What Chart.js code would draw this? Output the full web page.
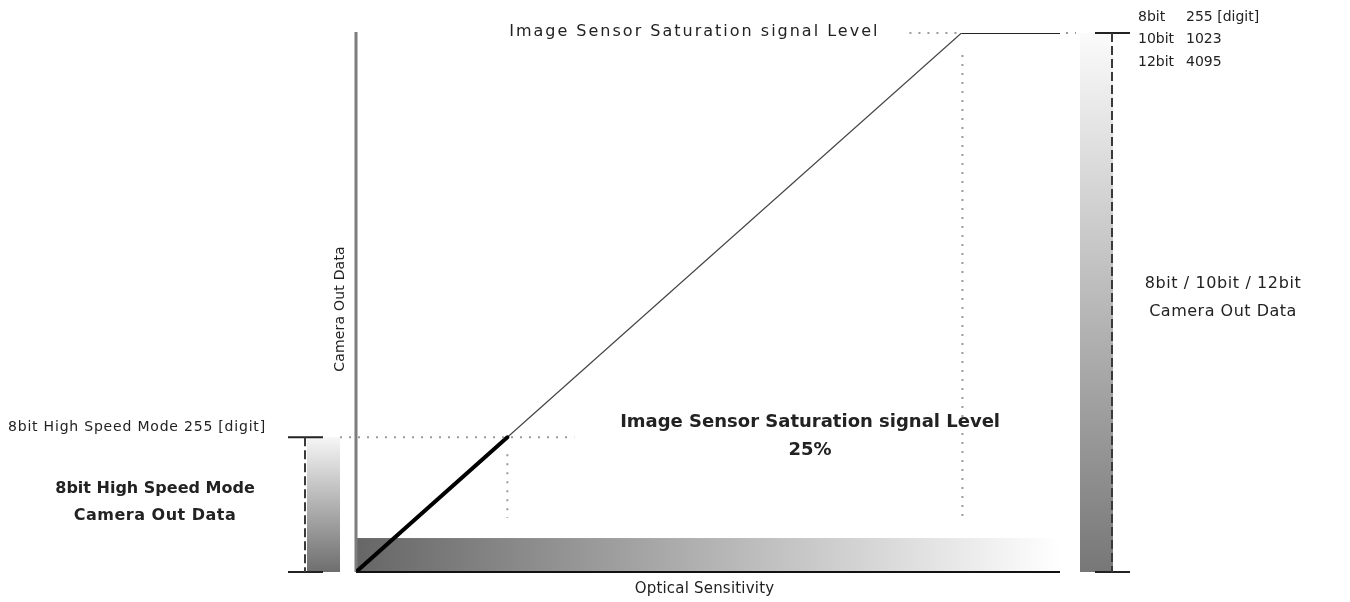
<!DOCTYPE html>
<html>
<head>
<meta charset="utf-8">
<title>Camera Out Data vs Optical Sensitivity</title>
<script src="https://cdn.jsdelivr.net/npm/chart.js@4.4.1/dist/chart.umd.min.js"></script>
<style>
    body { margin: 0; background: #fff; }
    canvas { display: block; }
</style>
</head>
<body>
<canvas id="sensor" width="1350" height="602"></canvas>
<script>
// optical sensitivity (x, % of full range) and camera output (y, % of saturation)
const sensitivity = [0, 21.5, 86, 100];
const outputLevel = [0, 25, 100, 100];
const highSpeedLevel = 25;      // 8bit high speed mode clips here
const saturationLevel = 100;
const bitDepths = ['8bit', '10bit', '12bit'];
const maxCodes = ['255 [digit]', '1023', '4095'];
const highSpeedCode = '8bit High Speed Mode 255 [digit]';

const points = sensitivity.map((x, i) => ({ x: x, y: outputLevel[i] }));
const highSpeedPts = points.filter(p => p.y <= highSpeedLevel);
const normalPts = points.filter(p => p.y >= highSpeedLevel);
const satX = sensitivity[outputLevel.indexOf(saturationLevel)];
const kneeX = highSpeedPts[highSpeedPts.length - 1].x;

function dotted(ctx, x1, y1, x2, y2) {
    ctx.save();
    ctx.strokeStyle = '#9a9a9a';
    ctx.lineWidth = 2;
    ctx.setLineDash([2, 7]);
    ctx.beginPath();
    ctx.moveTo(x1, y1);
    ctx.lineTo(x2, y2);
    ctx.stroke();
    ctx.restore();
}

function dashed(ctx, x, y1, y2) {
    ctx.save();
    ctx.strokeStyle = '#3a3a3a';
    ctx.lineWidth = 2;
    ctx.setLineDash([9, 4]);
    ctx.beginPath();
    ctx.moveTo(x, y1);
    ctx.lineTo(x, y2);
    ctx.stroke();
    ctx.restore();
}

function hline(ctx, x1, x2, y, w, color) {
    ctx.save();
    ctx.strokeStyle = color;
    ctx.lineWidth = w;
    ctx.beginPath();
    ctx.moveTo(x1, y);
    ctx.lineTo(x2, y);
    ctx.stroke();
    ctx.restore();
}

function text(ctx, str, x, y, font, align, spacing) {
    ctx.save();
    ctx.font = font;
    ctx.fillStyle = '#222';
    ctx.textAlign = align || 'left';
    ctx.textBaseline = 'middle';
    ctx.letterSpacing = (spacing || 0) + 'px';
    ctx.fillText(str, x, y);
    ctx.restore();
}

function vGradBar(ctx, x1, x2, yTop, yBot, top, bottom) {
    const g = ctx.createLinearGradient(0, yTop, 0, yBot);
    g.addColorStop(0, top);
    g.addColorStop(1, bottom);
    ctx.fillStyle = g;
    ctx.fillRect(x1, yTop, x2 - x1, yBot - yTop);
}

const decor = {
    id: 'decor',
    beforeDatasetsDraw(chart) {
        const ctx = chart.ctx;
        const xs = chart.scales.x, ys = chart.scales.y;
        const a = chart.chartArea;
        const x0 = xs.getPixelForValue(0), x1 = xs.getPixelForValue(100);
        const y0 = ys.getPixelForValue(0);

        // horizontal gradient strip along the sensitivity axis
        const gTop = ys.getPixelForValue(6.3);
        const g = ctx.createLinearGradient(x0, 0, x1, 0);
        g.addColorStop(0, '#666666');
        g.addColorStop(1, '#ffffff');
        ctx.fillStyle = g;
        ctx.fillRect(x0, gTop, x1 - x0, y0 - gTop);

        // left bar: 8bit high speed range
        const yHs = ys.getPixelForValue(highSpeedLevel);
        vGradBar(ctx, a.left - 49, a.left - 16, yHs, y0, '#f6f6f6', '#6e6e6e');
        // right bar: full range
        const ySat = ys.getPixelForValue(saturationLevel);
        vGradBar(ctx, a.right + 20, a.right + 53, ySat, y0, '#fbfbfb', '#777777');

        // camera out data axis
        ctx.save();
        ctx.strokeStyle = '#7d7d7d';
        ctx.lineWidth = 3;
        ctx.beginPath();
        ctx.moveTo(x0, ySat - 1);
        ctx.lineTo(x0, y0);
        ctx.stroke();
        ctx.restore();
    },
    afterDraw(chart) {
        const ctx = chart.ctx;
        const xs = chart.scales.x, ys = chart.scales.y;
        const a = chart.chartArea;
        const x0 = xs.getPixelForValue(0);
        const y0 = ys.getPixelForValue(0);
        const yHs = ys.getPixelForValue(highSpeedLevel);
        const ySat = ys.getPixelForValue(saturationLevel);
        const xKnee = xs.getPixelForValue(kneeX);
        const xSat = xs.getPixelForValue(satX);

        // sensitivity axis
        hline(ctx, x0, a.right, y0, 2, '#111');

        // guides
        dotted(ctx, x0 - 16, yHs, xs.getPixelForValue(31), yHs);
        dotted(ctx, xKnee, yHs + 17, xKnee, ys.getPixelForValue(10));
        dotted(ctx, xSat - 52, ySat, xSat - 2, ySat);
        dotted(ctx, a.right + 6, ySat, a.right + 16, ySat);
        dotted(ctx, xSat + 1, ySat + 22, xSat + 1, ys.getPixelForValue(9.5));

        // range markers
        hline(ctx, a.left - 68, a.left - 33, yHs, 2, '#222');
        hline(ctx, a.left - 68, a.left - 33, y0, 2, '#222');
        dashed(ctx, a.left - 51, yHs, y0);
        hline(ctx, a.right + 35, a.right + 70, ySat, 2, '#222');
        hline(ctx, a.right + 35, a.right + 70, y0, 2, '#222');
        dashed(ctx, a.right + 52, ySat, y0);

        // labels
        const reg = '"DejaVu Sans", sans-serif';
        text(ctx, 'Image Sensor Saturation signal Level', xSat - 82, ySat - 1, '16px ' + reg, 'right', 2);
        bitDepths.forEach((b, i) => {
            const y = ySat - 16 + i * 22.5;
            text(ctx, b, a.right + 78, y, '14px ' + reg, 'left', 0);
            text(ctx, maxCodes[i], a.right + 126, y, '14px ' + reg, 'left', 0);
        });
        text(ctx, '8bit / 10bit / 12bit', a.right + 163, ys.getPixelForValue(53.5), '16px ' + reg, 'center', 0.6);
        text(ctx, 'Camera Out Data', a.right + 163, ys.getPixelForValue(48.2), '16px ' + reg, 'center', 0.5);

        text(ctx, highSpeedCode, 8, yHs - 10, '14px ' + reg, 'left', 0.8);
        text(ctx, '8bit High Speed Mode', 155, ys.getPixelForValue(15.4), 'bold 16px ' + reg, 'center', 0);
        text(ctx, 'Camera Out Data', 155, ys.getPixelForValue(10.4), 'bold 16px ' + reg, 'center', 0.5);

        text(ctx, 'Image Sensor Saturation signal Level', xs.getPixelForValue(64.5), ys.getPixelForValue(27.8), 'bold 18px ' + reg, 'center', 0);
        text(ctx, '25%', xs.getPixelForValue(64.5), ys.getPixelForValue(22.6), 'bold 18px ' + reg, 'center', 0);

        text(ctx, 'Optical Sensitivity', xs.getPixelForValue(49.5), y0 + 17, '15px ' + reg, 'center', 0.2);

        ctx.save();
        ctx.translate(x0 - 16, ys.getPixelForValue(48.8));
        ctx.rotate(-Math.PI / 2);
        text(ctx, 'Camera Out Data', 0, 0, '14px ' + reg, 'center', 0.2);
        ctx.restore();
    }
};

new Chart('sensor', {
    type: 'scatter',
    data: {
        datasets: [{
            label: '8bit High Speed Mode',
            data: highSpeedPts,
            showLine: true,
            borderColor: '#000',
            borderWidth: 4,
            pointRadius: 0,
            borderCapStyle: 'round'
        }, {
            label: '8bit / 10bit / 12bit',
            data: normalPts,
            showLine: true,
            borderColor: '#444',
            borderWidth: 1.2,
            pointRadius: 0,
            segment: {
                borderWidth: c => (c.p0.parsed.y === saturationLevel && c.p1.parsed.y === saturationLevel) ? 2 : 1.2,
                borderColor: c => (c.p0.parsed.y === saturationLevel && c.p1.parsed.y === saturationLevel) ? '#222' : '#444'
            }
        }]
    },
    options: {
        responsive: false,
        animation: false,
        layout: { padding: { left: 356, right: 290, top: 33, bottom: 30 } },
        plugins: {
            legend: { display: false },
            tooltip: { enabled: false }
        },
        scales: {
            x: { type: 'linear', min: 0, max: 100, display: false },
            y: { type: 'linear', min: 0, max: 100, display: false }
        }
    },
    plugins: [decor]
});
</script>
</body>
</html>
